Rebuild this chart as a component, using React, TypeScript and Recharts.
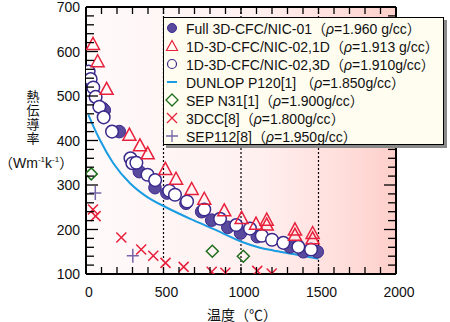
import React from 'react'
import {
    CartesianGrid,
    ComposedChart,
    Legend,
    Line,
    ReferenceLine,
    Scatter,
    XAxis,
    YAxis,
} from 'recharts'

// [temperature °C, conductivity W/mK]
const FULL_3D: [number, number][] = [
    [108, 472], [118, 468], [215, 420], [344, 330], [445, 294], [522, 282],
    [645, 259], [746, 240], [811, 221], [915, 205], [997, 192], [1105, 184],
    [1316, 161], [1402, 150], [1492, 150],
]
const NIC02_1D: [number, number][] = [
    [45, 616], [75, 577], [133, 515], [280, 412], [348, 388], [398, 370],
    [512, 335], [581, 313], [682, 290], [763, 268], [892, 242], [1004, 225],
    [1097, 212], [1166, 221], [1166, 210], [1348, 199], [1348, 187],
    [1462, 191], [1462, 179],
]
const NIC02_3D: [number, number][] = [
    [17, 555], [30, 538], [47, 519], [62, 498], [86, 476], [114, 452],
    [168, 420], [287, 360], [299, 349], [325, 350], [397, 323], [446, 311],
    [537, 287], [574, 278], [652, 263], [763, 245], [865, 224], [969, 210],
    [1058, 202], [1134, 186], [1200, 177], [1273, 170], [1370, 161], [1452, 155],
]
const DUNLOP: [number, number][] = [
    [15, 458], [50, 430], [90, 401], [176, 349], [284, 304], [391, 274],
    [516, 250], [692, 221], [850, 197], [1008, 172], [1123, 159], [1208, 153],
    [1337, 145], [1500, 134],
]
const SEP_N31: [number, number][] = [[34, 325], [815, 151], [1015, 140]]
const DCC3: [number, number][] = [
    [45, 245], [62, 230], [228, 182], [356, 155], [434, 141], [513, 125],
    [630, 116], [811, 105], [899, 103], [1105, 107], [1198, 101],
]
const SEP112: [number, number][] = [[60, 282], [302, 141]]

const SERIES_NAMES = [
    'Full 3D-CFC/NIC-01',
    '1D-3D-CFC/NIC-02,1D',
    '1D-3D-CFC/NIC-02,3D',
    'DUNLOP P120[1] ',
    'SEP N31[1]',
    '3DCC[8]',
    'SEP112[8]',
]
const DENSITIES = [
    '1.960 g/cc',
    '1.913 g/cc',
    '1.910g/cc',
    '1.850g/cc',
    '1.900g/cc',
    '1.800g/cc',
    '1.950g/cc',
]

const X_TICKS = Array.from({ length: 21 }, (_, i) => i * 100)
const Y_TICKS = Array.from({ length: 31 }, (_, i) => 100 + i * 20)
const GUIDES = [500, 1000, 1500]

const PURPLE = '#5a4a9e'
const PURPLE_DARK = '#3a2a8c'
const RED = '#e8203c'
const BLUE = '#1a9ce2'
const GREEN = '#1e6e1e'
const PLUS = '#7565aa'
const FONT = '"Liberation Sans", Arial, "Noto Sans CJK JP", sans-serif'

const pts = (arr: [number, number][]) => arr.map(([x, y]) => ({ x, y }))

const FilledDot = ({ cx, cy }: any) => (
    <circle cx={cx} cy={cy} r={6.3} fill={PURPLE} stroke={PURPLE_DARK} strokeWidth={1} />
)
const HollowDot = ({ cx, cy }: any) => (
    <circle cx={cx} cy={cy} r={6.3} fill="#fff" stroke={PURPLE_DARK} strokeWidth={1.5} />
)
const Tri = ({ cx, cy }: any) => (
    <path
        d={`M${cx},${cy - 7}L${cx - 6.5},${cy + 5}L${cx + 6.5},${cy + 5}Z`}
        fill="none"
        stroke={RED}
        strokeWidth={1.5}
    />
)
const Diamond = ({ cx, cy }: any) => (
    <path
        d={`M${cx},${cy - 6}L${cx + 6},${cy}L${cx},${cy + 6}L${cx - 6},${cy}Z`}
        fill="none"
        stroke={GREEN}
        strokeWidth={1.5}
    />
)
const Cross = ({ cx, cy }: any) => (
    <path
        d={`M${cx - 5},${cy - 5}L${cx + 5},${cy + 5}M${cx - 5},${cy + 5}L${cx + 5},${cy - 5}`}
        stroke={RED}
        strokeWidth={1.5}
    />
)
const Plus = ({ cx, cy }: any) => (
    <path
        d={`M${cx - 6},${cy}L${cx + 6},${cy}M${cx},${cy - 7}L${cx},${cy + 7}`}
        stroke={PLUS}
        strokeWidth={1.5}
    />
)

const LEGEND_ICONS = [
    <circle cx={8} cy={8} r={4.5} fill={PURPLE} stroke={PURPLE_DARK} />,
    <path d="M8,2.5L2.5,12.5L13.5,12.5Z" fill="none" stroke={RED} strokeWidth={1.2} />,
    <circle cx={8} cy={8} r={4.5} fill="none" stroke={PURPLE_DARK} strokeWidth={1.2} />,
    <line x1={3} y1={8} x2={13} y2={8} stroke={BLUE} strokeWidth={2} />,
    <path d="M8,2L14,8L8,14L2,8Z" fill="none" stroke={GREEN} strokeWidth={1.3} />,
    <path d="M3,3L13,13M3,13L13,3" stroke={RED} strokeWidth={1.3} />,
    <path d="M2,8L14,8M8,2L8,14" stroke={PLUS} strokeWidth={1.3} />,
]

const LegendBox = () => (
    <div
        style={{
            background: '#fffdf0',
            border: '1px solid #000',
            boxShadow: '3px 3px 0 #8a8a8a',
            width: 281,
            height: 128,
            boxSizing: 'border-box',
            padding: '1px 0 0 0',
            fontFamily: FONT,
            fontSize: 14,
            color: '#111',
        }}
    >
        {SERIES_NAMES.map((name, i) => (
            <div key={name} style={{ display: 'flex', alignItems: 'center', height: 18, whiteSpace: 'nowrap' }}>
                <svg width={16} height={16} style={{ marginLeft: 0, marginRight: 6 }}>
                    {LEGEND_ICONS[i]}
                </svg>
                <span>
                    {name}（<i>ρ</i>={DENSITIES[i]}）
                </span>
            </div>
        ))}
    </div>
)

const BottomTick = ({ x, y, payload }: any) => {
    const major = payload.value % 500 === 0
    return (
        <g>
            <line x1={x} x2={x} y1={y} y2={y - 7} stroke="#000" strokeWidth={1.3} />
            {major && (
                <text x={x + 3} y={y + 23} textAnchor="middle" fontSize={14} fontFamily={FONT} fill="#111">
                    {payload.value}
                </text>
            )}
        </g>
    )
}
const TopTick = ({ x, y }: any) => (
    <line x1={x} x2={x} y1={y} y2={y + 7} stroke="#000" strokeWidth={1.3} />
)
const LeftTick = ({ x, y, payload }: any) => {
    const major = payload.value % 100 === 0
    return (
        <g>
            <line x1={x} x2={x + (major ? 12 : 8)} y1={y} y2={y} stroke="#000" strokeWidth={1.3} />
            {major && (
                <text x={x - 6} y={y + 5} textAnchor="end" fontSize={14} fontFamily={FONT} fill="#111">
                    {payload.value}
                </text>
            )}
        </g>
    )
}
const RightTick = ({ x, y, payload }: any) => {
    const major = payload.value % 100 === 0
    return <line x1={x} x2={x - (major ? 12 : 8)} y1={y} y2={y} stroke="#000" strokeWidth={1.3} />
}

export default function App() {
    return (
        <div style={{ position: 'absolute', left: 0, top: 0, width: 450, height: 322, background: '#fff' }}>
            <ComposedChart width={450} height={322} margin={{ top: 6, right: 53, bottom: 0, left: 0 }}>
                <defs>
                    <linearGradient id="bg" x1="0" y1="0" x2="1" y2="0">
                        <stop offset="0%" stopColor="#fffafa" />
                        <stop offset="55%" stopColor="#fff0f0" />
                        <stop offset="80%" stopColor="#ffe0dd" />
                        <stop offset="100%" stopColor="#fdcfca" />
                    </linearGradient>
                </defs>
                <CartesianGrid horizontal={false} vertical={false} fill="url(#bg)" />
                <XAxis
                    xAxisId="b"
                    type="number"
                    dataKey="x"
                    domain={[0, 2000]}
                    allowDataOverflow
                    ticks={X_TICKS}
                    interval={0}
                    height={48}
                    tickSize={0}
                    tickMargin={0}
                    tickLine={false}
                    axisLine={{ stroke: '#000', strokeWidth: 2 }}
                    tick={<BottomTick />}
                />
                <XAxis
                    xAxisId="t"
                    orientation="top"
                    type="number"
                    dataKey="x"
                    domain={[0, 2000]}
                    allowDataOverflow
                    ticks={X_TICKS}
                    interval={0}
                    height={1}
                    tickSize={0}
                    tickMargin={0}
                    tickLine={false}
                    axisLine={{ stroke: '#000', strokeWidth: 2 }}
                    tick={<TopTick />}
                />
                <YAxis
                    yAxisId="l"
                    type="number"
                    dataKey="y"
                    domain={[100, 700]}
                    allowDataOverflow
                    ticks={Y_TICKS}
                    interval={0}
                    width={86}
                    tickSize={0}
                    tickMargin={0}
                    tickLine={false}
                    axisLine={{ stroke: '#000', strokeWidth: 2 }}
                    tick={<LeftTick />}
                />
                <YAxis
                    yAxisId="r"
                    orientation="right"
                    type="number"
                    dataKey="y"
                    domain={[100, 700]}
                    allowDataOverflow
                    ticks={Y_TICKS}
                    interval={0}
                    width={1}
                    tickSize={0}
                    tickMargin={0}
                    tickLine={false}
                    axisLine={{ stroke: '#000', strokeWidth: 2 }}
                    tick={<RightTick />}
                />
                {GUIDES.map((g) => (
                    <ReferenceLine
                        key={g}
                        x={g}
                        xAxisId="b"
                        yAxisId="l"
                        stroke="#000"
                        strokeWidth={1.2}
                        strokeDasharray="2 2"
                    />
                ))}
                <Scatter name={SERIES_NAMES[0]} xAxisId="b" yAxisId="l" data={pts(FULL_3D)} dataKey="y" shape={<FilledDot />} isAnimationActive={false} />
                <Scatter name={SERIES_NAMES[2]} xAxisId="b" yAxisId="l" data={pts(NIC02_3D)} dataKey="y" shape={<HollowDot />} isAnimationActive={false} />
                <Line name={SERIES_NAMES[3]} xAxisId="b" yAxisId="l" data={pts(DUNLOP)} dataKey="y" type="monotone" stroke={BLUE} strokeWidth={2} dot={false} isAnimationActive={false} />
                <Scatter name={SERIES_NAMES[1]} xAxisId="b" yAxisId="l" data={pts(NIC02_1D)} dataKey="y" shape={<Tri />} isAnimationActive={false} />
                <Scatter name={SERIES_NAMES[4]} xAxisId="b" yAxisId="l" data={pts(SEP_N31)} dataKey="y" shape={<Diamond />} isAnimationActive={false} />
                <Scatter name={SERIES_NAMES[5]} xAxisId="b" yAxisId="l" data={pts(DCC3)} dataKey="y" shape={<Cross />} isAnimationActive={false} />
                <Scatter name={SERIES_NAMES[6]} xAxisId="b" yAxisId="l" data={pts(SEP112)} dataKey="y" shape={<Plus />} isAnimationActive={false} />
                <Legend
                    layout="vertical"
                    align="center"
                    verticalAlign="middle"
                    wrapperStyle={{ left: 163, top: 17, width: 284, height: 131 }}
                    content={() => <LegendBox />}
                />
            </ComposedChart>
            <div
                style={{
                    position: 'absolute',
                    left: 26,
                    top: 90,
                    width: 14,
                    fontFamily: FONT,
                    fontSize: 13,
                    lineHeight: '14px',
                    color: '#111',
                    textAlign: 'center',
                }}
            >
                熱<br />伝<br />導<br />率
            </div>
            <div
                style={{
                    position: 'absolute',
                    left: -1,
                    top: 155,
                    width: 72,
                    fontFamily: FONT,
                    fontSize: 14,
                    lineHeight: '16px',
                    color: '#111',
                    whiteSpace: 'nowrap',
                    textAlign: 'center',
                }}
            >
                （Wm<sup style={{ fontSize: 8, lineHeight: 0 }}>-1</sup>k<sup style={{ fontSize: 8, lineHeight: 0 }}>-1</sup>）
            </div>
            <div
                style={{
                    position: 'absolute',
                    left: 192,
                    top: 307,
                    width: 100,
                    fontFamily: FONT,
                    fontSize: 14,
                    lineHeight: '16px',
                    color: '#111',
                    textAlign: 'center',
                    whiteSpace: 'nowrap',
                }}
            >
                温度（℃）
            </div>
        </div>
    )
}
